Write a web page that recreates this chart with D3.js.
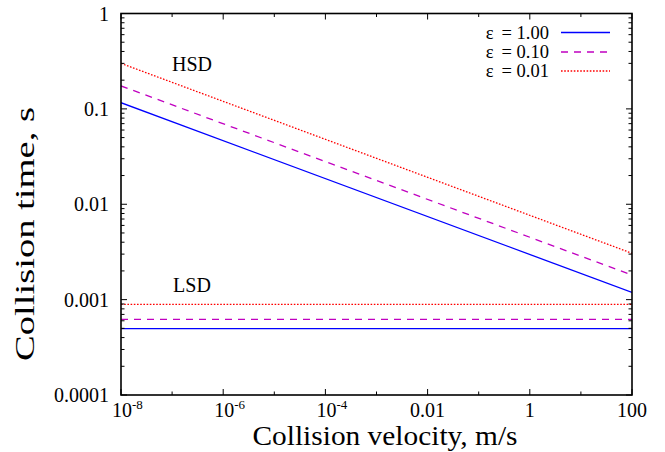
<!DOCTYPE html>
<html><head><meta charset="utf-8">
<script src="https://cdn.jsdelivr.net/npm/d3@7"></script>
<style>
html,body{margin:0;padding:0;background:#fff;}
</style></head>
<body><svg id="chart" width="665" height="452"></svg>
<script>
// ---- data ----
const velocities = [1e-8, 100];
const seriesSymbol = "ε";
const seriesValues = ["= 1.00", "= 0.10", "= 0.01"];
const seriesColors = ["#0000ff", "#c000c0", "#ff0000"];
const hsdEps100 = [0.116, 0.00119];
const hsdEps010 = [0.174, 0.00181];
const hsdEps001 = [0.300, 0.00306];
const lsdEps100 = [0.000496, 0.000496];
const lsdEps010 = [0.000622, 0.000622];
const lsdEps001 = [0.000893, 0.000893];
const xTickValues = [1e-8, 1e-6, 1e-4, 1e-2, 1, 100];
const xTickLabels = [["10","-8"],["10","-6"],["10","-4"],["0.01",""],["1",""],["100",""]];
const yTickValues = [1e-4, 1e-3, 1e-2, 1e-1, 1];
const yTickLabels = ["0.0001","0.001","0.01","0.1","1"];
const regionLabels = ["HSD", "LSD"];

const FONT = "'Liberation Serif', Tinos, 'Times New Roman', Times, serif";
const svg = d3.select("#chart").attr("font-family", FONT);
const L = 121, R = 632, T = 13.5, B = 395;
const x = d3.scaleLog().domain([1e-8, 100]).range([L, R]);
const y = d3.scaleLog().domain([1e-4, 1]).range([B, T]);

const dashes = [null, "7,6", "1.6,1.6"];
const hsd = [hsdEps100, hsdEps010, hsdEps001];
const lsd = [lsdEps100, lsdEps010, lsdEps001];

svg.append("clipPath").attr("id","clip").append("rect")
  .attr("x",L).attr("y",T).attr("width",R-L).attr("height",B-T);

const line = d3.line().x(d=>x(d[0])).y(d=>y(d[1]));
const g = svg.append("g").attr("clip-path","url(#clip)");
[0,1,2].forEach(i=>{
  [hsd[i], lsd[i]].forEach(vals=>{
    g.append("path").datum(velocities.map((v,k)=>[v, vals[k]]))
      .attr("d", line).attr("fill","none")
      .attr("stroke", seriesColors[i]).attr("stroke-width",1.3)
      .attr("stroke-dasharray", dashes[i]);
  });
});

// ticks
const axes = svg.append("g").attr("stroke","#000").attr("stroke-width",1);
for (let e=-8; e<=2; e++){
  const v = Math.pow(10,e), px = x(v);
  const len = (e%2===0) ? 6 : 3.5;
  axes.append("line").attr("x1",px).attr("x2",px).attr("y1",B).attr("y2",B-len);
  axes.append("line").attr("x1",px).attr("x2",px).attr("y1",T).attr("y2",T+len);
}
for (let e=-4; e<=0; e++){
  for (let m=1; m<=9; m++){
    const v = m*Math.pow(10,e);
    if (v>1) break;
    const py = y(v), len = m===1 ? 6 : 3.5;
    axes.append("line").attr("x1",L).attr("x2",L+len).attr("y1",py).attr("y2",py);
    axes.append("line").attr("x1",R).attr("x2",R-len).attr("y1",py).attr("y2",py);
  }
}
svg.append("rect").attr("x",L).attr("y",T).attr("width",R-L).attr("height",B-T)
  .attr("fill","none").attr("stroke","#000").attr("stroke-width",1.6);

// x tick labels
xTickValues.forEach((v,i)=>{
  const [base, sup] = xTickLabels[i];
  const t = svg.append("text").attr("y",417).attr("font-size",20);
  if (sup){
    t.attr("x", x(v)-9).attr("text-anchor","start");
    t.append("tspan").text(base);
    t.append("tspan").attr("dy",-8).attr("font-size",13).text(sup);
  } else {
    t.attr("x", x(v)).attr("text-anchor","middle").text(base);
  }
});
// y tick labels
yTickValues.forEach((v,i)=>{
  svg.append("text").attr("x",109).attr("y",y(v)).attr("dy","0.35em")
    .attr("text-anchor","end").attr("font-size",20).text(yTickLabels[i]);
});

// titles
svg.append("text").attr("x",385).attr("y",445).attr("text-anchor","middle")
  .attr("font-size",27).attr("textLength",265).attr("lengthAdjust","spacingAndGlyphs")
  .text("Collision velocity, m/s");
svg.append("text").attr("transform","translate(34,234) rotate(-90)")
  .attr("text-anchor","middle").attr("font-size",28)
  .attr("textLength",254).attr("lengthAdjust","spacingAndGlyphs")
  .text("Collision time, s");

// region labels
svg.append("text").attr("x",192).attr("y",64).attr("dy","0.35em").attr("text-anchor","middle")
  .attr("font-size",20).text(regionLabels[0]);
svg.append("text").attr("x",192).attr("y",285).attr("dy","0.35em").attr("text-anchor","middle")
  .attr("font-size",20).text(regionLabels[1]);

// legend
const legY = [32.5, 52, 71];
seriesValues.forEach((val,i)=>{
  const t = svg.append("text").attr("x",549).attr("y",legY[i]).attr("dy","0.35em")
    .attr("text-anchor","end").attr("font-size",18.5);
  t.append("tspan").text(seriesSymbol);
  t.append("tspan").attr("dx",8).text(val);
  svg.append("line").attr("x1",561).attr("x2",610).attr("y1",legY[i]).attr("y2",legY[i])
    .attr("stroke",seriesColors[i]).attr("stroke-width",1.3).attr("stroke-dasharray",dashes[i]);
});
</script></body></html>
